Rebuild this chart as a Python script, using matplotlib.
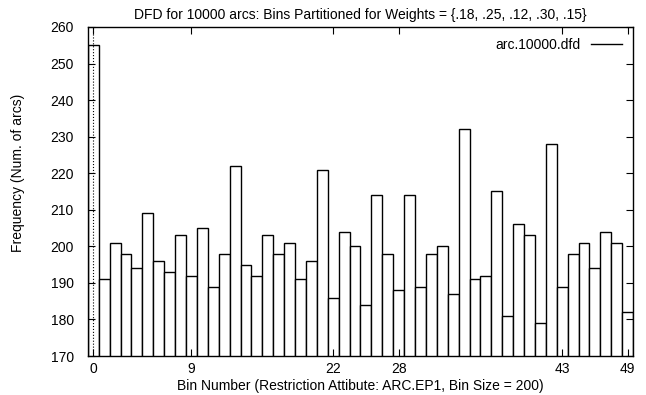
import matplotlib
matplotlib.use('Agg')
import matplotlib.pyplot as plt
import numpy as np

plt.rcParams['font.family'] = ['Liberation Sans', 'DejaVu Sans']

# Frequency per bin
bins = np.arange(50)
freq = [255, 191, 201, 198, 194, 209, 196, 193, 203, 192,
        205, 189, 198, 222, 195, 192, 203, 198, 201, 191,
        196, 221, 186, 204, 200, 184, 214, 198, 188, 214,
        189, 198, 200, 187, 232, 191, 192, 215, 181, 206,
        203, 179, 228, 189, 198, 201, 194, 204, 201, 182]
xticks = [0, 9, 22, 28, 43, 49]
yticks = list(range(170, 261, 10))

fig = plt.figure(figsize=(6.46, 3.95), dpi=100)
ax = fig.add_axes([0.136, 0.0987, 0.844, 0.833])

ax.bar(bins, freq, width=1.0, color='white', edgecolor='black', linewidth=1.0)
# legend sample drawn as a line like gnuplot
ax.plot([], [], color='black', linewidth=1.0, label='arc.10000.dfd')
ax.axvline(0, color='black', linestyle=':', linewidth=0.8)

ax.set_xlim(-0.5, 49.5)
ax.set_ylim(170, 260)
ax.set_xticks(xticks)
ax.set_yticks(yticks)
ax.tick_params(direction='in', length=5, width=0.8, labelsize=10,
               top=True, right=True)
ax.tick_params(axis='x', pad=4.5)
ax.tick_params(axis='y', pad=10)
for s in ax.spines.values():
    s.set_linewidth(1.0)

ax.set_title('DFD for 10000 arcs: Bins Partitioned for Weights = {.18, .25, .12, .30, .15}',
             fontsize=10, pad=6)
ax.set_xlabel('Bin Number (Restriction Attibute: ARC.EP1, Bin Size = 200)', fontsize=10)
ax.xaxis.set_label_coords(0.5, -0.07)
ax.set_ylabel('Frequency (Num. of arcs)', fontsize=10)
ax.yaxis.set_label_coords(-0.116, 0.556)

ax.legend(loc='upper right', frameon=False, markerfirst=False, fontsize=10,
          handlelength=2.2, borderaxespad=0.4)

fig.savefig('out.png', dpi=100)
